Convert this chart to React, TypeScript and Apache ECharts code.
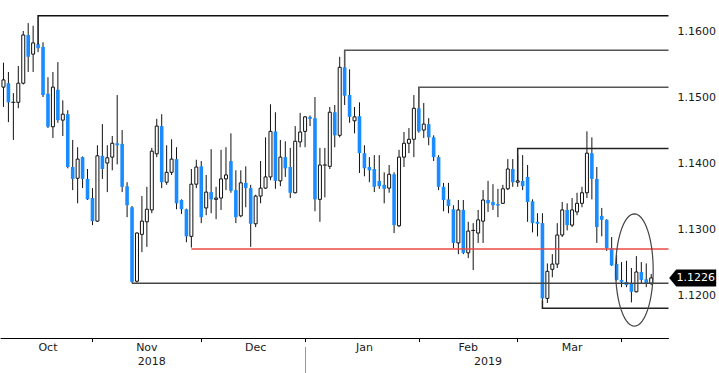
import React, { useEffect, useRef } from "react";
import * as echarts from "echarts";

// Trading days shown on the category axis (3 empty days at the end)
const monthDays: [string, number[]][] = [
  ["2018-10", [5, 8, 9, 10, 11, 12, 15, 16, 17, 18, 19, 22, 23, 24, 25, 26, 29, 30, 31]],
  ["2018-11", [1, 2, 5, 6, 7, 8, 9, 12, 13, 14, 15, 16, 19, 20, 21, 22, 23, 26, 27, 28, 29, 30]],
  ["2018-12", [3, 4, 5, 6, 7, 10, 11, 12, 13, 14, 17, 18, 19, 20, 21, 24, 25, 26, 27, 28, 31]],
  ["2019-01", [1, 2, 3, 4, 7, 8, 9, 10, 11, 14, 15, 16, 17, 18, 21, 22, 23, 24, 25, 28, 29, 30, 31]],
  ["2019-02", [1, 4, 5, 6, 7, 8, 11, 12, 13, 14, 15, 18, 19, 20, 21, 22, 25, 26, 27, 28]],
  ["2019-03", [1, 4, 5, 6, 7, 8, 11, 12, 13, 14, 15, 18, 19, 20, 21, 22, 25, 26, 27, 28, 29]],
  ["2019-04", [1, 2, 3, 4, 5, 8, 9, 10, 11]],
];
const categories: string[] = monthDays.flatMap(([m, days]) =>
  days.map((d) => `${m}-${String(d).padStart(2, "0")}`)
);

// Month / year tick labels
const monthKeys = ["2018-10", "2018-11", "2018-12", "2019-01", "2019-02", "2019-03"];
const monthLabels = ["Oct", "Nov", "Dec", "Jan", "Feb", "Mar"];
const yearKeys = ["2018", "2019"];
const yearLabels = ["2018", "2019"];

// Daily candles: [open, close, low, high]
const candles: number[][] = [
  [1.1515, 1.1526, 1.1485, 1.1552], [1.1521, 1.1492, 1.1462, 1.1538], [1.1492, 1.1492, 1.1435, 1.1506],
  [1.1492, 1.1521, 1.1483, 1.1547], [1.1521, 1.1594, 1.1519, 1.16], [1.1594, 1.1561, 1.1538, 1.1612],
  [1.1565, 1.1582, 1.1538, 1.1608], [1.158, 1.1574, 1.1568, 1.1582], [1.1576, 1.1503, 1.15, 1.1583],
  [1.1505, 1.1455, 1.1453, 1.153], [1.1455, 1.1515, 1.1438, 1.1538], [1.1511, 1.1465, 1.1461, 1.1553],
  [1.1465, 1.1474, 1.1441, 1.1495], [1.1474, 1.1394, 1.1392, 1.148], [1.1394, 1.1376, 1.1359, 1.1435],
  [1.1377, 1.1406, 1.1339, 1.1424], [1.1409, 1.1376, 1.1362, 1.141], [1.1376, 1.1345, 1.1344, 1.1391],
  [1.1347, 1.1312, 1.1306, 1.1362], [1.1312, 1.1411, 1.1311, 1.1427], [1.1411, 1.1391, 1.1376, 1.1459],
  [1.14, 1.1408, 1.1356, 1.1427], [1.1409, 1.143, 1.1389, 1.1441], [1.143, 1.1427, 1.1398, 1.1503],
  [1.1429, 1.1364, 1.1356, 1.145], [1.1365, 1.1336, 1.1318, 1.1371], [1.1333, 1.122, 1.1218, 1.1335],
  [1.1221, 1.1294, 1.1219, 1.1295], [1.1292, 1.1312, 1.1265, 1.135], [1.1311, 1.133, 1.1273, 1.1364],
  [1.1329, 1.1418, 1.1324, 1.1423], [1.1414, 1.1456, 1.1409, 1.1467], [1.1456, 1.1371, 1.1362, 1.1474],
  [1.1371, 1.1386, 1.1367, 1.1427], [1.1386, 1.1406, 1.1382, 1.1436], [1.1406, 1.1339, 1.133, 1.1424],
  [1.1344, 1.133, 1.1323, 1.1345], [1.133, 1.1289, 1.128, 1.1331], [1.1289, 1.1368, 1.1272, 1.1391],
  [1.1368, 1.1394, 1.1362, 1.1405], [1.1395, 1.1318, 1.1309, 1.1403], [1.1332, 1.1356, 1.1321, 1.1382],
  [1.1356, 1.1345, 1.1324, 1.1421], [1.1345, 1.1347, 1.1315, 1.1364], [1.1347, 1.1376, 1.1329, 1.142],
  [1.1376, 1.1382, 1.1359, 1.1424], [1.1403, 1.1358, 1.1355, 1.1445], [1.1359, 1.1318, 1.1309, 1.1389],
  [1.132, 1.137, 1.1318, 1.1389], [1.137, 1.1362, 1.1333, 1.1395], [1.1362, 1.1308, 1.1273, 1.1367],
  [1.1308, 1.135, 1.1303, 1.1352], [1.135, 1.1362, 1.1339, 1.1403], [1.1362, 1.1379, 1.1361, 1.1439],
  [1.1379, 1.1448, 1.1374, 1.1489], [1.1448, 1.1373, 1.1361, 1.1477], [1.1373, 1.1409, 1.1365, 1.1435],
  [1.1409, 1.1392, 1.1379, 1.1433], [1.1394, 1.1355, 1.1347, 1.1423], [1.1355, 1.1433, 1.1354, 1.1456],
  [1.1432, 1.1447, 1.1424, 1.1476], [1.1448, 1.147, 1.1424, 1.1471], [1.147, 1.1467, 1.1456, 1.1472],
  [1.1468, 1.1345, 1.1327, 1.15], [1.1345, 1.1397, 1.1311, 1.1423], [1.1397, 1.1397, 1.1348, 1.1423],
  [1.1395, 1.1477, 1.1391, 1.1485], [1.1477, 1.1442, 1.1424, 1.1488], [1.1442, 1.1545, 1.1439, 1.1561],
  [1.1545, 1.1502, 1.1488, 1.1571], [1.1503, 1.147, 1.1461, 1.1542], [1.1464, 1.147, 1.1445, 1.1485],
  [1.1471, 1.1415, 1.1385, 1.1492], [1.1415, 1.1392, 1.138, 1.1427], [1.1394, 1.1389, 1.1371, 1.1409],
  [1.1391, 1.1364, 1.1356, 1.1412], [1.1373, 1.1365, 1.1361, 1.1412], [1.1367, 1.1361, 1.1339, 1.1386],
  [1.1362, 1.1383, 1.1355, 1.1397], [1.1383, 1.1306, 1.1294, 1.1386], [1.1305, 1.1409, 1.1303, 1.142],
  [1.1409, 1.143, 1.1394, 1.1447], [1.143, 1.1436, 1.1415, 1.1453], [1.1436, 1.1483, 1.1409, 1.1503],
  [1.1483, 1.1448, 1.1446, 1.1515], [1.145, 1.1459, 1.1438, 1.1491], [1.1459, 1.1439, 1.1427, 1.1468],
  [1.1439, 1.1409, 1.1403, 1.1442], [1.1409, 1.1364, 1.1359, 1.1412], [1.1364, 1.1344, 1.1327, 1.137],
  [1.1345, 1.1335, 1.1324, 1.137], [1.133, 1.1279, 1.1271, 1.1336], [1.1279, 1.1329, 1.1262, 1.1344],
  [1.1329, 1.1264, 1.1262, 1.1344], [1.1264, 1.1297, 1.1256, 1.1311], [1.1298, 1.1298, 1.1238, 1.1309],
  [1.1294, 1.1314, 1.1279, 1.1329], [1.1312, 1.1344, 1.1279, 1.1359], [1.1344, 1.1339, 1.1326, 1.1373],
  [1.1341, 1.1336, 1.1329, 1.1368], [1.1338, 1.1336, 1.1318, 1.1361], [1.1339, 1.1361, 1.1338, 1.1367],
  [1.1361, 1.1391, 1.1359, 1.1406], [1.1391, 1.1371, 1.1364, 1.1406], [1.1371, 1.1373, 1.1364, 1.1412],
  [1.1373, 1.1365, 1.1359, 1.1412], [1.1379, 1.1341, 1.1311, 1.1397], [1.1342, 1.1309, 1.1295, 1.1345],
  [1.1311, 1.1308, 1.1289, 1.1324], [1.1309, 1.1195, 1.1192, 1.1324], [1.1195, 1.1236, 1.1188, 1.1248],
  [1.1239, 1.1247, 1.1227, 1.1262], [1.1247, 1.1291, 1.1241, 1.1309], [1.1291, 1.1329, 1.1288, 1.1341],
  [1.1329, 1.1306, 1.1298, 1.1339], [1.1306, 1.1329, 1.1303, 1.1347], [1.1326, 1.1339, 1.1321, 1.1355],
  [1.1339, 1.1355, 1.1333, 1.1364], [1.1355, 1.1415, 1.1347, 1.1448], [1.1415, 1.1376, 1.1345, 1.1439],
  [1.1376, 1.1303, 1.1279, 1.1394], [1.132, 1.1314, 1.1289, 1.1332], [1.1314, 1.1271, 1.1267, 1.1315],
  [1.1271, 1.1245, 1.1244, 1.1288], [1.1247, 1.1223, 1.1222, 1.1261], [1.1223, 1.122, 1.1212, 1.125],
  [1.122, 1.1215, 1.1212, 1.1252], [1.1217, 1.1205, 1.1189, 1.1241], [1.1205, 1.1235, 1.1204, 1.1259],
  [1.1235, 1.1223, 1.1218, 1.125], [1.1224, 1.1218, 1.1212, 1.1248], [1.1218, 1.1226, 1.1215, 1.1232],
];
const lastPrice = 1.1226;

// Analyst level lines: [category index, hook start price, level price]
const levelLines: number[][] = [
  [7, 1.158, 1.1623],
  [69, 1.1545, 1.1571],
  [84, 1.1483, 1.1515],
  [104, 1.1373, 1.1422],
  [38, 1.127, 1.127],
  [26, 1.1218, 1.1218],
  [109, 1.1192, 1.118],
];
const levelColors = ["#111", "#555", "#555", "#222", "#ec4a45", "#444", "#222"];

// Ellipse annotation: [category index, centre price]
const ellipseCenter: number[][] = [[128, 1.1238]];
const ELLIPSE_SHIFT = -0.4; // in bands
const ELLIPSE_HALF_W = 3.8; // in bands
const ELLIPSE_HALF_H = 0.0085; // in price

const BLUE = "#1a8cff";
const FONT = "DejaVu Sans";
const TEXT = "#1a1a1a";

export default function App() {
  const ref = useRef<HTMLDivElement>(null);

  useEffect(() => {
    document.body.style.margin = "0";
    if (!ref.current) return;
    const chart = echarts.init(ref.current, undefined, { renderer: "svg" });

    const firstIdx: Record<string, number> = {};
    const lastIdx: Record<string, number> = {};
    categories.forEach((c, i) => {
      const m = c.slice(0, 7);
      const y = c.slice(0, 4);
      if (firstIdx[m] === undefined) firstIdx[m] = i;
      lastIdx[m] = i;
      if (firstIdx[y] === undefined) firstIdx[y] = i;
      lastIdx[y] = i;
    });
    const monthLabelAt: Record<string, string> = {};
    const monthTickAt = new Set<string>();
    monthKeys.forEach((k, j) => {
      const mid = Math.floor((firstIdx[k] + lastIdx[k]) / 2);
      monthLabelAt[categories[mid]] = monthLabels[j];
      monthTickAt.add(categories[lastIdx[k]]);
    });
    const yearLabelAt: Record<string, string> = {};
    yearKeys.forEach((k, j) => {
      const mid = Math.floor((firstIdx[k] + lastIdx[k]) / 2);
      yearLabelAt[categories[mid]] = yearLabels[j];
    });
    const yearSep = categories[lastIdx[yearKeys[0]]];

    const option: any = {
      animation: false,
      grid: { left: 1, right: 48, top: 0, bottom: 35 },
      xAxis: [
        {
          type: "category",
          data: categories,
          boundaryGap: true,
          axisLine: { show: true, lineStyle: { color: "#000", width: 1 } },
          axisTick: {
            show: true,
            alignWithLabel: true,
            length: 4,
            interval: (_i: number, v: string) => monthTickAt.has(v),
            lineStyle: { color: "#000" },
          },
          axisLabel: {
            interval: (_i: number, v: string) => monthLabelAt[v] !== undefined,
            formatter: (v: string) => monthLabelAt[v] || "",
            margin: 4,
            fontFamily: FONT,
            fontSize: 11,
            color: TEXT,
          },
          splitLine: { show: false },
        },
        {
          type: "category",
          data: categories,
          position: "bottom",
          offset: 9,
          boundaryGap: true,
          axisLine: { show: false },
          axisTick: {
            show: true,
            alignWithLabel: true,
            length: 27,
            interval: (_i: number, v: string) => v === yearSep,
            lineStyle: { color: "#999" },
          },
          axisLabel: {
            interval: (_i: number, v: string) => yearLabelAt[v] !== undefined,
            formatter: (v: string) => yearLabelAt[v] || "",
            margin: 9,
            fontFamily: FONT,
            fontSize: 11,
            color: TEXT,
          },
          splitLine: { show: false },
        },
      ],
      yAxis: {
        type: "value",
        position: "right",
        min: 1.1135,
        max: 1.1647,
        splitNumber: 5,
        scale: true,
        axisLine: { show: false },
        axisTick: { show: false },
        splitLine: { show: false },
        axisLabel: {
          showMinLabel: false,
          showMaxLabel: false,
          margin: 9,
          fontFamily: FONT,
          fontSize: 11,
          color: TEXT,
          formatter: (v: number) => v.toFixed(4),
        },
      },
      series: [
        {
          type: "custom",
          name: "EURUSD",
          xAxisIndex: 0,
          data: candles.map((d, i) => [i, d[0], d[1], d[2], d[3]]),
          encode: { x: 0, y: [1, 2, 3, 4] },
          renderItem: (_params: any, api: any) => {
            const i = api.value(0);
            const o = api.value(1);
            const c = api.value(2);
            const l = api.value(3);
            const h = api.value(4);
            const pH = api.coord([i, h]);
            const pL = api.coord([i, l]);
            const pO = api.coord([i, o]);
            const pC = api.coord([i, c]);
            const x = pH[0];
            const bw = 3;
            const children: any[] = [
              {
                type: "line",
                shape: { x1: x, y1: pH[1], x2: x, y2: pL[1] },
                style: { stroke: "#111", lineWidth: 1 },
              },
            ];
            if (o === c) {
              children.push({
                type: "line",
                shape: { x1: x - 2, y1: pO[1], x2: x + 2, y2: pO[1] },
                style: { stroke: "#111", lineWidth: 1 },
              });
            } else if (c > o) {
              children.push({
                type: "rect",
                shape: { x: x - bw / 2, y: pC[1], width: bw, height: Math.max(pO[1] - pC[1], 1) },
                style: { fill: "#fff", stroke: "#111", lineWidth: 1 },
              });
            } else {
              children.push({
                type: "rect",
                shape: { x: x - bw / 2 - 0.3, y: pO[1], width: bw + 0.6, height: Math.max(pC[1] - pO[1], 1.5) },
                style: { fill: BLUE },
              });
            }
            return { type: "group", children };
          },
          markPoint: {
            symbol: "path://M0 8 L7 0 L47 0 L47 16 L7 16 Z",
            symbolSize: [47, 17],
            symbolKeepAspect: false,
            symbolOffset: [41.5, 0],
            itemStyle: { color: "#000" },
            label: {
              show: true,
              position: "inside",
              formatter: lastPrice.toFixed(4),
              color: "#fff",
              fontFamily: FONT,
              fontSize: 11,
              offset: [3, 0],
            },
            data: [{ coord: [categories[candles.length - 1], lastPrice] }],
          },
          z: 2,
        },
        {
          type: "custom",
          name: "levels",
          xAxisIndex: 0,
          data: levelLines,
          encode: { x: 0, y: [1, 2] },
          renderItem: (params: any, api: any) => {
            const i = api.value(0);
            const a = api.coord([i, api.value(1)]);
            const b = api.coord([i, api.value(2)]);
            const right = params.coordSys.x + params.coordSys.width;
            return {
              type: "polyline",
              shape: { points: [[a[0], a[1]], [b[0], b[1]], [right, b[1]]] },
              style: { stroke: levelColors[params.dataIndex], lineWidth: 1.5, fill: "none" },
            };
          },
          z: 3,
        },
        {
          type: "custom",
          name: "ellipse",
          xAxisIndex: 0,
          data: ellipseCenter,
          encode: { x: 0, y: 1 },
          renderItem: (_params: any, api: any) => {
            const i = api.value(0);
            const p = api.value(1);
            const c = api.coord([i, p]);
            const t = api.coord([i, p + ELLIPSE_HALF_H]);
            const band = api.size([1, 0])[0];
            const cx = c[0] + ELLIPSE_SHIFT * band;
            const rx = ELLIPSE_HALF_W * band;
            const ry = c[1] - t[1];
            const pts: number[][] = [];
            for (let k = 0; k < 72; k++) {
              const a = (k / 72) * Math.PI * 2;
              pts.push([cx + rx * Math.cos(a), c[1] + ry * Math.sin(a)]);
            }
            return {
              type: "polygon",
              shape: { points: pts },
              style: { stroke: "#444", lineWidth: 1.2, fill: "none" },
            };
          },
          z: 4,
        },
      ],
    };

    chart.setOption(option);
    return () => chart.dispose();
  }, []);

  return <div ref={ref} style={{ width: 719, height: 373 }} />;
}
